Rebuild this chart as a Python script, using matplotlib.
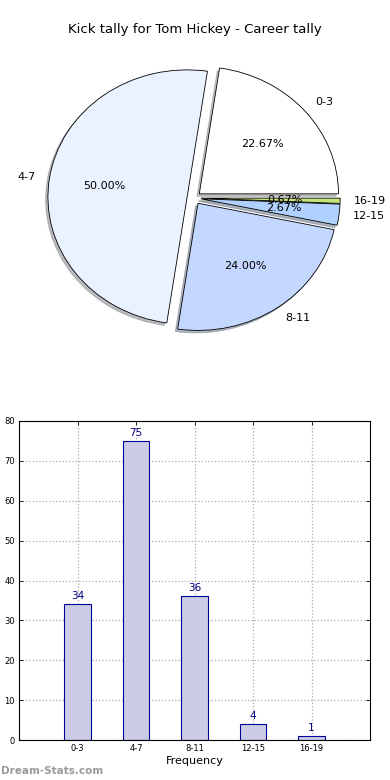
import matplotlib
matplotlib.use("Agg")
import matplotlib.pyplot as plt

categories = ["0-3", "4-7", "8-11", "12-15", "16-19"]
counts = [34, 75, 36, 4, 1]
pie_colors = ["#ffffff", "#ebf2ff", "#c4d8ff", "#b0d0ff", "#c4e47a"]
yticks = [0, 10, 20, 30, 40, 50, 60, 70, 80]
title = "Kick tally for Tom Hickey - Career tally"

fig = plt.figure(figsize=(3.9, 7.8), dpi=100)

# Pie chart
axp = fig.add_axes([20/390, 1 - 357/780, 348/390, 318/780])
wedges, texts, autotexts = axp.pie(
    counts, labels=categories, colors=pie_colors, autopct="%1.2f%%",
    explode=[0.05]*len(counts),
    shadow={"ox": -0.012, "oy": -0.014, "shade": 0.5},
    startangle=0,
    wedgeprops=dict(edgecolor="black", linewidth=0.6),
    textprops=dict(fontsize=8), labeldistance=1.1, pctdistance=0.6)
axp.set_aspect("auto")
axp.set_xlim(-1.25, 1.25)
axp.set_ylim(-1.25, 1.25)
axp.axis("off")
fig.text(0.5, 1 - 30/780, title, ha="center", va="center", fontsize=9.5)

# Bar chart
axb = fig.add_axes([19/390, 1 - 740/780, 351/390, 319/780])
x = list(range(len(categories)))
bars = axb.bar(x, counts, width=0.45, color="#cccce6", edgecolor="#000099", linewidth=0.8, zorder=2)
for xi, c in zip(x, counts):
    axb.text(xi, c + 0.8, str(c), ha="center", va="bottom", fontsize=7.5, color="#000080")
axb.set_xlim(-1, 5)
axb.set_ylim(0, 80)
axb.set_xticks(x)
axb.set_xticklabels(categories, fontsize=6)
axb.set_yticks(yticks)
axb.set_yticklabels([str(v) for v in yticks], fontsize=6)
axb.tick_params(direction="in", length=3, width=0.6, top=True, right=True, pad=3)
axb.grid(True, linestyle=":", color="#aaaaaa", linewidth=0.9, zorder=0)
axb.set_axisbelow(True)
for s in axb.spines.values():
    s.set_linewidth(0.8)
axb.set_xlabel("Frequency", fontsize=8, labelpad=2)

fig.text(1/390, 1 - 771/780, "Dream-Stats.com", ha="left", va="center", fontsize=7.5,
         color="#999999", fontweight="bold")

fig.savefig("out.png", dpi=100)
